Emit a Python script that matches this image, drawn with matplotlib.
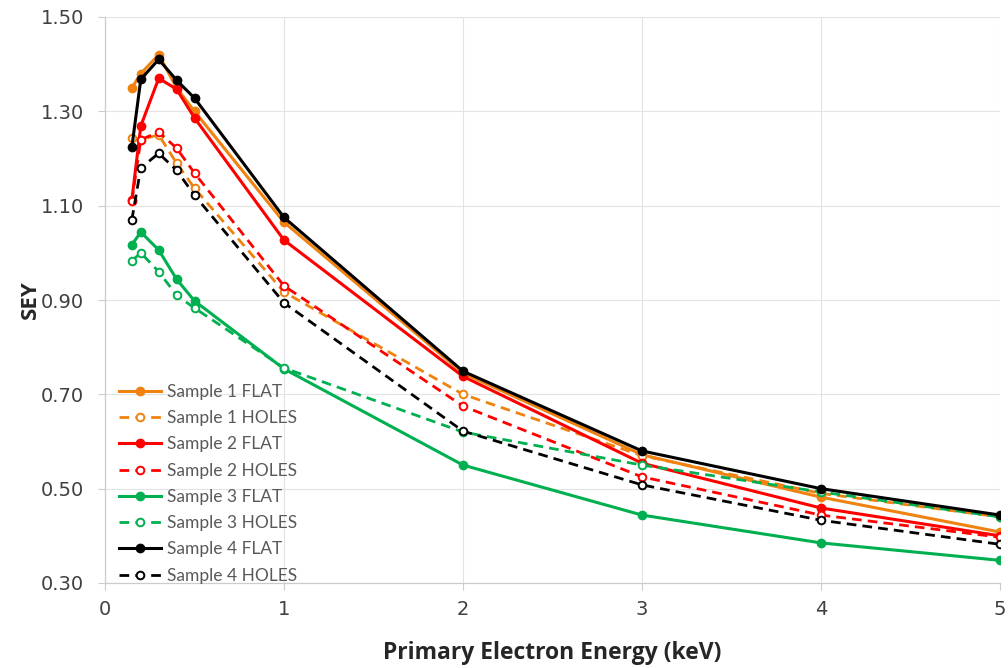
import matplotlib
matplotlib.use("Agg")
import matplotlib.pyplot as plt

energy = [0.15, 0.2, 0.3, 0.4, 0.5, 1, 2, 3, 4, 5]

s1_flat  = [1.35, 1.38, 1.42, 1.35, 1.30, 1.065, 0.745, 0.572, 0.482, 0.408]
s1_holes = [1.243, 1.24, 1.25, 1.19, 1.137, 0.917, 0.70, 0.570, 0.490, 0.440]
s2_flat  = [1.112, 1.269, 1.37, 1.347, 1.286, 1.027, 0.738, 0.554, 0.459, 0.400]
s2_holes = [1.11, 1.24, 1.256, 1.222, 1.169, 0.930, 0.675, 0.525, 0.444, 0.397]
s3_flat  = [1.017, 1.044, 1.006, 0.944, 0.898, 0.754, 0.550, 0.444, 0.385, 0.348]
s3_holes = [0.983, 1.000, 0.960, 0.910, 0.883, 0.756, 0.620, 0.550, 0.493, 0.440]
s4_flat  = [1.224, 1.368, 1.41, 1.366, 1.328, 1.075, 0.749, 0.580, 0.500, 0.444]
s4_holes = [1.07, 1.18, 1.211, 1.175, 1.122, 0.894, 0.622, 0.508, 0.433, 0.382]

series = [
    ("Sample 1 FLAT", s1_flat, "#f0820f", False),
    ("Sample 1 HOLES", s1_holes, "#f0820f", True),
    ("Sample 2 FLAT", s2_flat, "#ff0000", False),
    ("Sample 2 HOLES", s2_holes, "#ff0000", True),
    ("Sample 3 FLAT", s3_flat, "#00b050", False),
    ("Sample 3 HOLES", s3_holes, "#00b050", True),
    ("Sample 4 FLAT", s4_flat, "#000000", False),
    ("Sample 4 HOLES", s4_holes, "#000000", True),
]

yticks = [0.30, 0.50, 0.70, 0.90, 1.10, 1.30, 1.50]
xticks = [0, 1, 2, 3, 4, 5]

fig = plt.figure(figsize=(10.08, 6.68), dpi=100)
ax = fig.add_axes([105 / 1008, 1 - 583 / 668, 895 / 1008, 566 / 668])

for label, vals, color, hollow in series:
    if hollow:
        ax.plot(energy, vals, color=color, lw=2.0, ls=(0, (3.5, 2.2)),
                marker="o", ms=5.5, mfc="white", mec=color, mew=1.4,
                label=label, zorder=3)
    else:
        ax.plot(energy, vals, color=color, lw=2.2, ls="-",
                marker="o", ms=6, mfc=color, mec=color,
                label=label, zorder=3)

ax.set_xlim(0, 5)
ax.set_ylim(0.30, 1.50)
ax.set_xticks(xticks)
ax.set_yticks(yticks)
ax.set_yticklabels([f"{v:.2f}" for v in yticks])
ax.grid(True, color="#e3e3e3", lw=0.8, zorder=0)
ax.set_axisbelow(True)

for side in ("top", "right"):
    ax.spines[side].set_visible(False)
for side in ("left", "bottom"):
    ax.spines[side].set_color("#cccccc")
    ax.spines[side].set_linewidth(0.9)

ax.tick_params(axis="y", length=5, color="#cccccc", labelsize=14,
               labelcolor="#404040", pad=10)
ax.tick_params(axis="x", length=5, color="#cccccc", labelsize=14,
               labelcolor="#404040", pad=7)

ax.set_xlabel("Primary Electron Energy (keV)", fontsize=16.5, fontweight="bold",
              color="#262626", family="Open Sans", labelpad=16)
ax.set_ylabel("SEY", fontsize=16, fontweight="bold", color="#262626",
              family="Open Sans", labelpad=0)

leg = ax.legend(loc="upper left", bbox_to_anchor=(0.016, 0.3516), frameon=False,
                prop={"family": "Lato", "size": 12.5}, handlelength=2.4,
                labelspacing=0.59, handletextpad=0.35, borderaxespad=0.0,
                borderpad=0.0)
for t in leg.get_texts():
    t.set_color("#595959")

fig.savefig("out.png", dpi=100)
